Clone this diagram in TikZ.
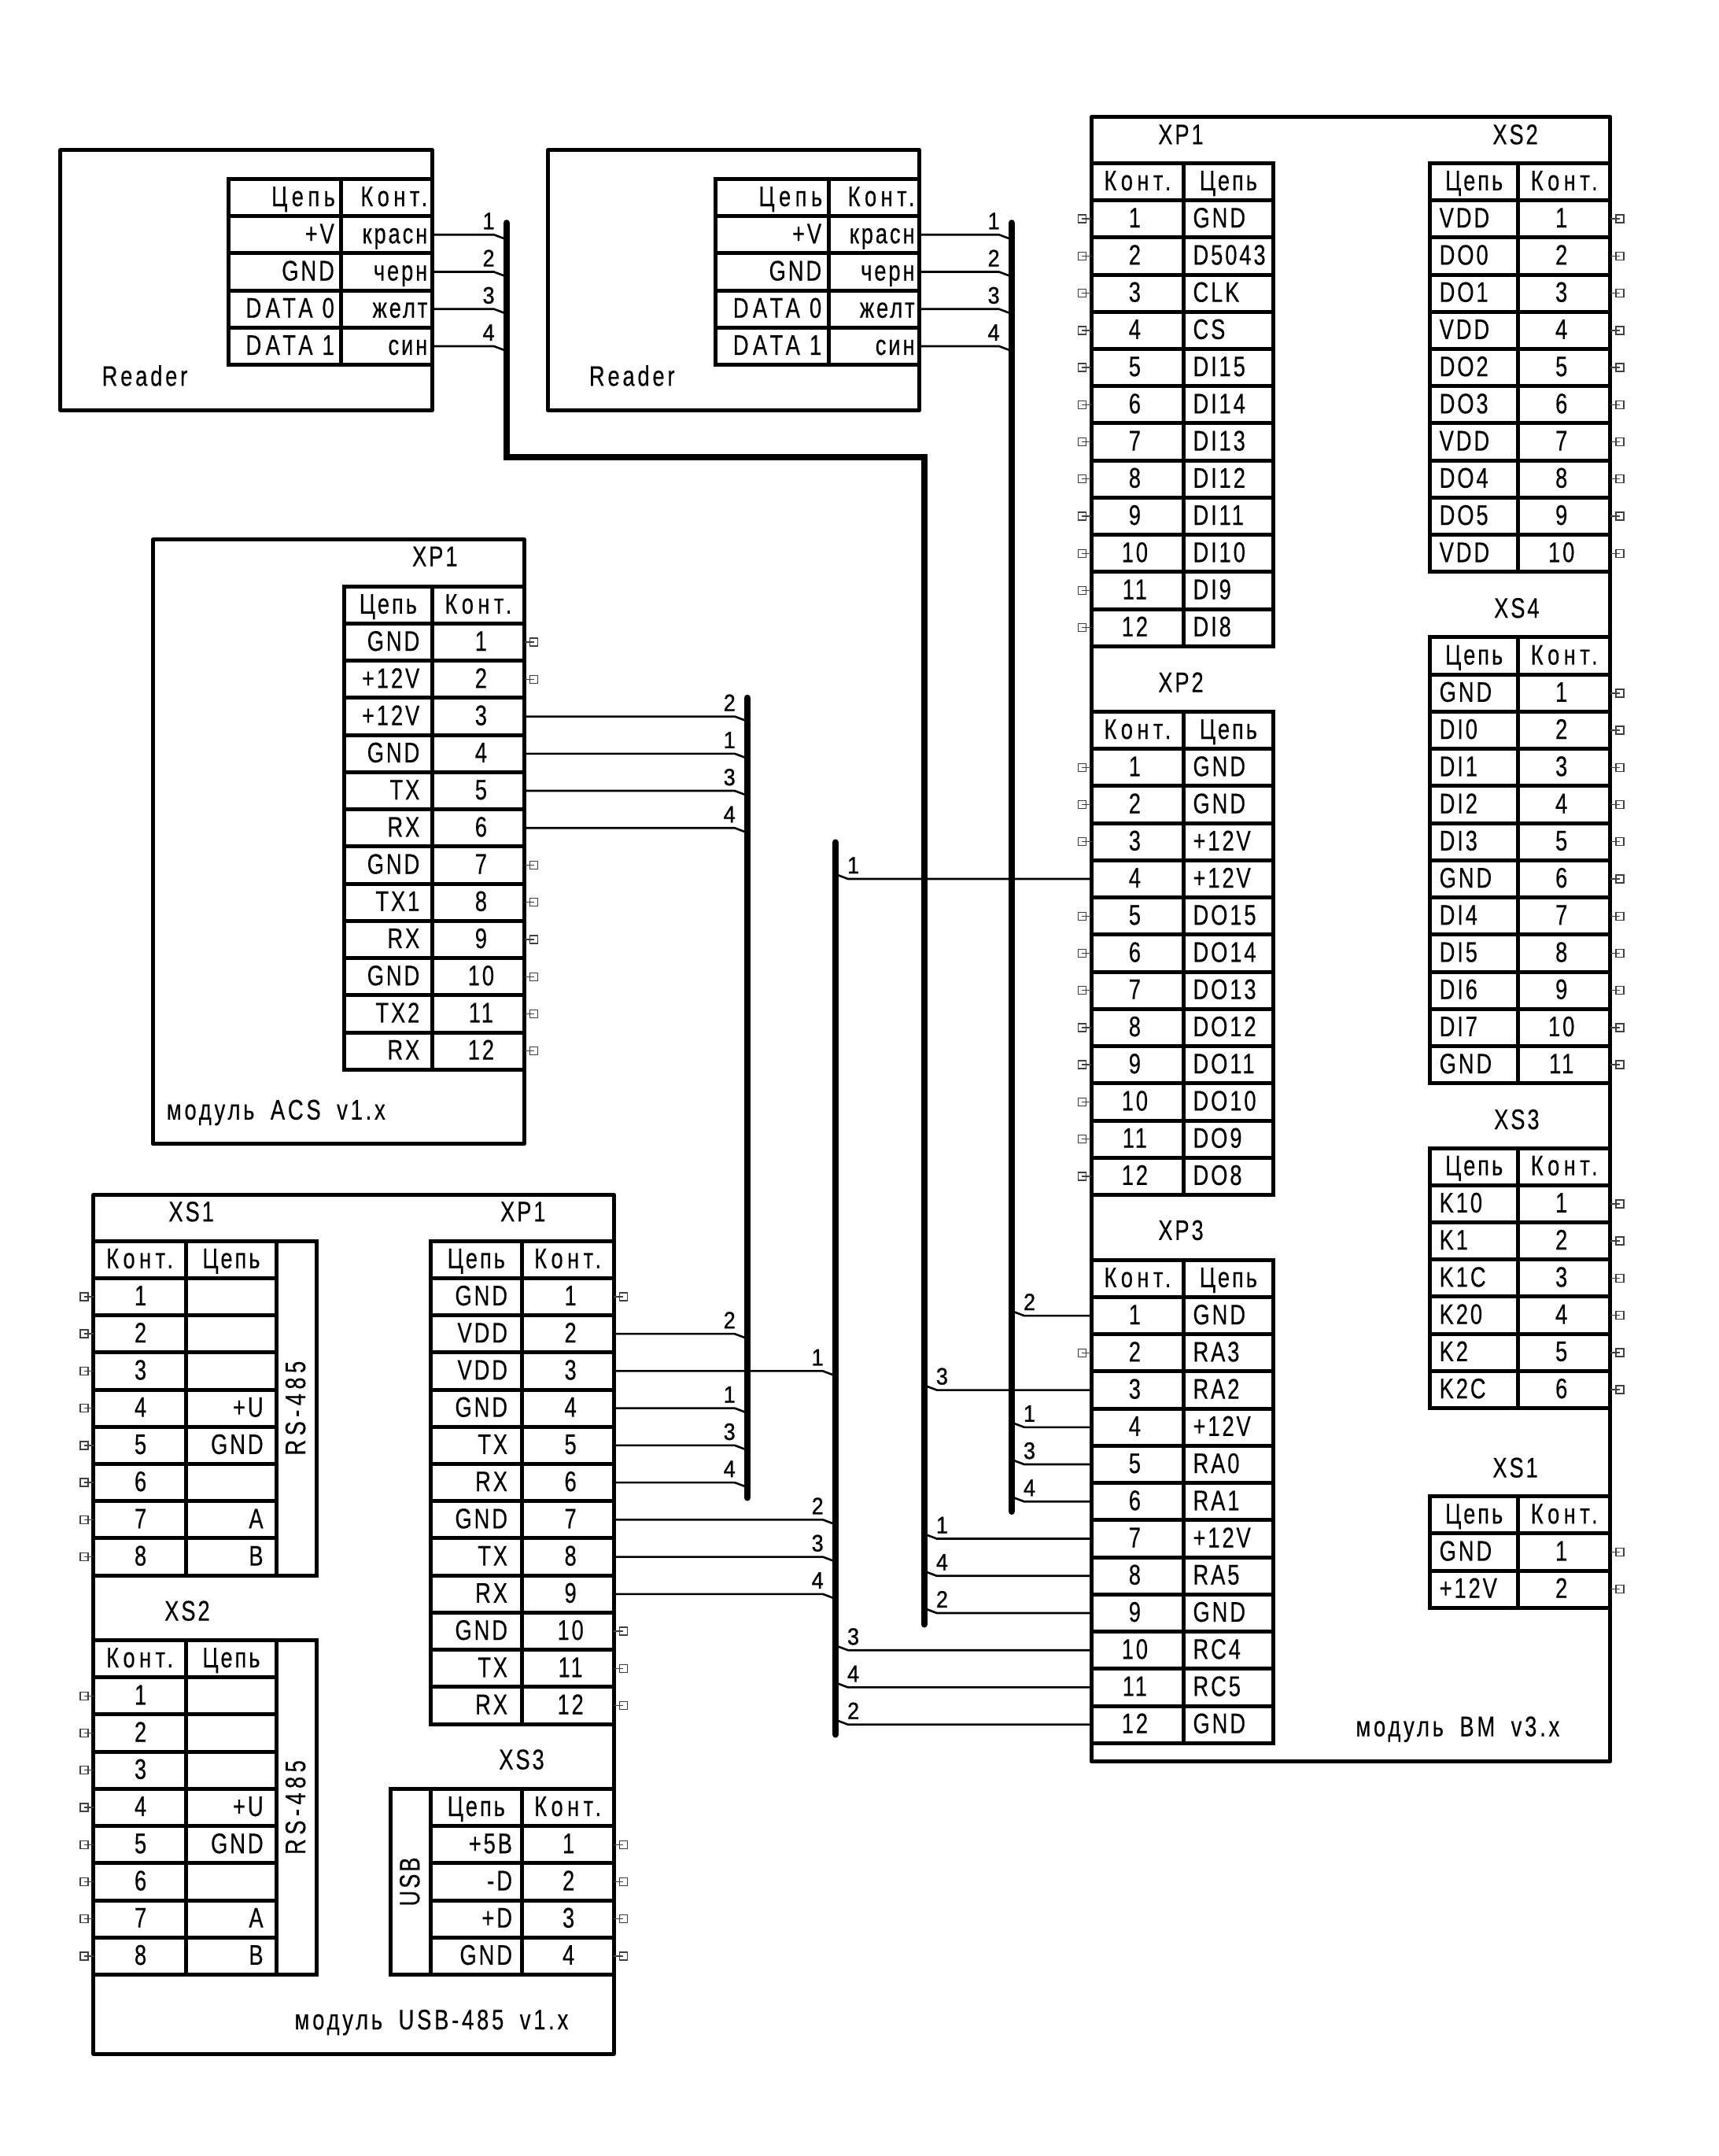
\documentclass[tikz,border=0pt]{standalone}
\usepackage{fontspec}
\setmainfont[FakeStretch=0.76,LetterSpace=8,WordSpace=1.8,FakeBold=0.3]{Liberation Sans}
\newfontfamily\hdfont[FakeStretch=0.76,LetterSpace=15,WordSpace=2.2,FakeBold=0.3]{Liberation Sans}
\newfontfamily\modfont[FakeStretch=0.76,LetterSpace=10.5,WordSpace=1.8,FakeBold=0.3]{Liberation Sans}
\newfontfamily\labfont[FakeStretch=0.9,FakeBold=0.9]{Liberation Sans}
\tikzset{
  cell/.style={draw=black,line width=5pt,rectangle,outer sep=0pt,inner ysep=0pt,anchor=north west,
    text height=25pt,text depth=3pt,font=\fontsize{36}{38}\selectfont},
  modbox/.style={draw=black,line width=5pt,rectangle,outer sep=0pt,inner sep=0pt,anchor=north west,line join=round},
  txt/.style={inner sep=0pt,text height=25pt,text depth=3pt,font=\fontsize{36}{38}\selectfont},
  modtxt/.style={txt,anchor=west,font=\modfont\fontsize{36}{38}\selectfont},
  vtxt/.style={draw=black,line width=5pt,rectangle,outer sep=0pt,inner ysep=0pt,rotate=90,
    text height=25pt,text depth=3pt,font=\fontsize{36}{38}\selectfont},
  wire/.style={draw=black,line width=2.6pt,line join=round},
  busline/.style={draw=black,line width=8.4pt,line cap=round,line join=miter},
  lab/.style={inner sep=0pt,text height=20pt,text depth=0pt,font=\labfont\fontsize{30}{32}\selectfont},
  stubmark/.style={draw=black!75,line width=1.4pt}
}
\def\pinoff{0pt}
\newcommand\cellnode[7]{% name,x0,x1,ytop,align,inset,text
  \pgfmathsetlengthmacro\cw{(#3-#2)*1.7494pt-2*#6pt}
  \pgfmathsetlengthmacro\cww{(#3-#2)*1.7494pt}
  \node[cell,minimum width=\cww,minimum height=47.23pt,inner xsep=#6pt,text width=\cw,align=#5] (#1) at (#2,#4) {\mbox{#7}};
}
% pin column on the left
\newcommand\connL[8]{% name,x0,x1,x2,ytop,align,inset,nets
  \cellnode{#1-hp}{#2}{#3}{#5}{center}{0}{\hdfont Конт.}
  \cellnode{#1-hn}{#3}{#4}{#5}{center}{0}{Цепь}
  \foreach \t [count=\i] in {#8}{
    \pgfmathsetmacro\yy{#5+\i*27}
    \cellnode{#1-p\i}{#2}{#3}{\yy}{center}{0}{\hspace*{\pinoff}\i}
    \cellnode{#1-n\i}{#3}{#4}{\yy}{#6}{#7}{\t}
  }
}
% pin column on the right
\newcommand\connR[8]{% name,x0,x1,x2,ytop,align,inset,nets
  \cellnode{#1-hn}{#2}{#3}{#5}{center}{0}{Цепь}
  \cellnode{#1-hp}{#3}{#4}{#5}{center}{0}{\hdfont Конт.}
  \foreach \t [count=\i] in {#8}{
    \pgfmathsetmacro\yy{#5+\i*27}
    \cellnode{#1-n\i}{#2}{#3}{\yy}{#6}{#7}{\t}
    \cellnode{#1-p\i}{#3}{#4}{\yy}{center}{0}{\hspace*{\pinoff}\i}
  }
}
\newcommand\readerconn[5]{% name,x0,x1,x2,ytop
  \cellnode{#1-hn}{#2}{#3}{#5}{right}{8}{\hdfont Цепь}
  \cellnode{#1-hp}{#3}{#4}{#5}{right}{6}{\hdfont Конт.}
  \foreach \t/\q [count=\i] in {+V/красн,GND/черн,{\hdfont DATA 0}/желт,{\hdfont DATA 1}/син}{
    \pgfmathsetmacro\yy{#5+\i*27}
    \cellnode{#1-n\i}{#2}{#3}{\yy}{right}{9}{\t}
    \cellnode{#1-p\i}{#3}{#4}{\yy}{right}{6}{\q}
  }
}
\newcommand\modnode[5]{% name,x0,y0,x1,y1
  \pgfmathsetlengthmacro\mw{(#4-#2)*1.7494pt}
  \pgfmathsetlengthmacro\mh{(#5-#3)*1.7494pt}
  \node[modbox,minimum width=\mw,minimum height=\mh] (#1) at (#2,#3) {};
}
\newcommand\sidecol[6]{% name,x0,x1,y0,y1,text
  \pgfmathsetlengthmacro\mw{(#3-#2)*1.7494pt}
  \pgfmathsetlengthmacro\mh{(#5-#4)*1.7494pt}
  \node[vtxt,minimum width=\mh,minimum height=\mw] (#1) at ({(#2+#3)/2},{(#4+#5)/2}) {#6};
}
\newcommand\stubL[1]{%
  \draw[stubmark] ([xshift=-17pt,yshift=-5pt]#1.west) rectangle ([xshift=-7pt,yshift=5pt]#1.west);
  \draw[stubmark] ([xshift=-12pt]#1.west) -- (#1.west);
}
\newcommand\stubR[1]{%
  \draw[stubmark] ([xshift=7pt,yshift=-5pt]#1.east) rectangle ([xshift=17pt,yshift=5pt]#1.east);
  \draw[stubmark] (#1.east) -- ([xshift=12pt]#1.east);
}
% wire from a pin on the left of the bus
\newcommand\wireL[3]{%
  \draw[wire] (#1.east) -- ([xshift=-16pt]#1.east -| #2) -- ([yshift=-6pt]#1.east -| #2);
  \node[lab,anchor=east] (#1-wl) at ([xshift=-15pt,yshift=17pt]#1.east -| #2) {#3};
}
% wire from a pin on the right of the bus
\newcommand\wireR[3]{%
  \draw[wire] (#1.west) -- ([xshift=16pt]#1.west -| #2) -- ([yshift=6pt]#1.west -| #2);
  \node[lab,anchor=west] (#1-wl) at ([xshift=15pt,yshift=17pt]#1.west -| #2) {#3};
}
\begin{document}
\begin{tikzpicture}[x=1.7494pt,y=-1.7494pt]
\useasboundingbox[fill=white] (0,0) rectangle (1249,1566.25);
% buses
\coordinate (busA) at (368,162);
\coordinate (busAm) at (368,332);
\coordinate (busAn) at (671.5,332);
\coordinate (busAe) at (671.5,1180);
\coordinate (busB) at (735,162);
\coordinate (busBe) at (735,1098);
\coordinate (busC) at (543,507);
\coordinate (busCe) at (543,1088);
\coordinate (busD) at (607,612);
\coordinate (busDe) at (607,1260);
% modules
\modnode{reader1}{44}{109}{314}{298}
\modnode{reader2}{398}{109}{668}{298}
\modnode{acs}{111}{392}{381}{831}
\modnode{usb}{68}{868}{446}{1492}
\modnode{bm}{793}{85}{1170}{1279.5}
% reader connectors
\readerconn{ra}{166}{248}{314}{130}
\readerconn{rb}{520}{602}{668}{130}
\node[modtxt] (readerA) at (74,274) {Reader};
\node[modtxt] (readerB) at (428,274) {Reader};
% ACS
\node[txt] (acsT) at (316,405) {XP1};
\def\pinoff{7pt}
\connR{ac}{250}{314}{381}{426}{right}{16}{GND,+12V,+12V,GND,TX,RX,GND,TX1,RX,GND,TX2,RX}
\node[modtxt] (acsL) at (121,807) {модуль ACS v1.x};
% USB-485
\node[txt] (usbT1) at (139,881) {XS1};
\def\pinoff{2pt}
\connL{us1}{68}{135}{201}{901.5}{right}{17}{{},{},{},+U,GND,{},A,B}
\sidecol{us1c}{201}{230}{901.5}{1144.5}{\hdfont RS-485}
\node[txt] (usbT2) at (380,881) {XP1};
\def\pinoff{7pt}
\connR{up}{313}{379}{446}{901.5}{right}{18}{GND,VDD,VDD,GND,TX,RX,GND,TX,RX,GND,TX,RX}
\node[txt] (usbT3) at (136,1171) {XS2};
\def\pinoff{2pt}
\connL{us2}{68}{135}{201}{1191.5}{right}{17}{{},{},{},+U,GND,{},A,B}
\sidecol{us2c}{201}{230}{1191.5}{1434.5}{\hdfont RS-485}
\node[txt] (usbT4) at (379,1279) {XS3};
\def\pinoff{2pt}
\connR{us3}{313}{379}{446}{1299.5}{right}{12}{+5В,-D,+D,GND}
\sidecol{us3c}{284}{313}{1299.5}{1434.5}{USB}
\node[modtxt] (usbL) at (214,1468) {модуль USB-485 v1.x};
% BM
\def\pinoff{-7pt}
\node[txt] (bmT1) at (858,98.5) {XP1};
\connL{bx1}{793}{860}{925}{118.5}{left}{12}{GND,D5043,CLK,CS,DI15,DI14,DI13,DI12,DI11,DI10,DI9,DI8}
\node[txt] (bmT2) at (858,496.5) {XP2};
\connL{bx2}{793}{860}{925}{517}{left}{12}{GND,GND,+12V,+12V,DO15,DO14,DO13,DO12,DO11,DO10,DO9,DO8}
\node[txt] (bmT3) at (858,894.5) {XP3};
\connL{bx3}{793}{860}{925}{915.3}{left}{12}{GND,RA3,RA2,+12V,RA0,RA1,+12V,RA5,GND,RC4,RC5,GND}
\node[txt] (bmT4) at (1101,98.5) {XS2};
\connR{bs2}{1039}{1103}{1170}{118.5}{left}{12}{VDD,DO0,DO1,VDD,DO2,DO3,VDD,DO4,DO5,VDD}
\node[txt] (bmT5) at (1102,442.5) {XS4};
\connR{bs4}{1039}{1103}{1170}{463}{left}{12}{GND,DI0,DI1,DI2,DI3,GND,DI4,DI5,DI6,DI7,GND}
\node[txt] (bmT6) at (1102,814) {XS3};
\connR{bs3}{1039}{1103}{1170}{834}{left}{12}{K10,K1,K1C,K20,K2,K2C}
\node[txt] (bmT7) at (1101,1067) {XS1};
\connR{bs1}{1039}{1103}{1170}{1087}{left}{12}{GND,+12V}
\node[modtxt] (bmL) at (985,1255) {модуль BM v3.x};
% unused-pin marks
\foreach \k in {1,...,12}{\stubL{bx1-p\k}}
\foreach \k in {1,2,3,5,6,7,8,9,10,11,12}{\stubL{bx2-p\k}}
\stubL{bx3-p2}
\foreach \k in {1,...,8}{\stubL{us1-p\k}\stubL{us2-p\k}}
\foreach \k in {1,2,7,8,9,10,11,12}{\stubR{ac-p\k}}
\foreach \k in {1,10,11,12}{\stubR{up-p\k}}
\foreach \k in {1,...,4}{\stubR{us3-p\k}}
\foreach \k in {1,...,10}{\stubR{bs2-p\k}}
\foreach \k in {1,...,11}{\stubR{bs4-p\k}}
\foreach \k in {1,...,6}{\stubR{bs3-p\k}}
\foreach \k in {1,2}{\stubR{bs1-p\k}}
% wires
\foreach \k in {1,...,4}{\wireL{ra-p\k}{busA}{\k}\wireL{rb-p\k}{busB}{\k}}
\wireL{ac-p3}{busC}{2}
\wireL{ac-p4}{busC}{1}
\wireL{ac-p5}{busC}{3}
\wireL{ac-p6}{busC}{4}
\wireL{up-p2}{busC}{2}
\wireL{up-p3}{busD}{1}
\wireL{up-p4}{busC}{1}
\wireL{up-p5}{busC}{3}
\wireL{up-p6}{busC}{4}
\wireL{up-p7}{busD}{2}
\wireL{up-p8}{busD}{3}
\wireL{up-p9}{busD}{4}
\wireR{bx2-p4}{busD}{1}
\wireR{bx3-p1}{busB}{2}
\wireR{bx3-p3}{busAe}{3}
\wireR{bx3-p4}{busB}{1}
\wireR{bx3-p5}{busB}{3}
\wireR{bx3-p6}{busB}{4}
\wireR{bx3-p7}{busAe}{1}
\wireR{bx3-p8}{busAe}{4}
\wireR{bx3-p9}{busAe}{2}
\wireR{bx3-p10}{busD}{3}
\wireR{bx3-p11}{busD}{4}
\wireR{bx3-p12}{busD}{2}
% bus lines
\draw[busline] (busA) -- (busAm) -- (busAn) -- (busAe);
\draw[busline] (busB) -- (busBe);
\draw[busline] (busC) -- (busCe);
\draw[busline] (busD) -- (busDe);
\end{tikzpicture}
\end{document}
